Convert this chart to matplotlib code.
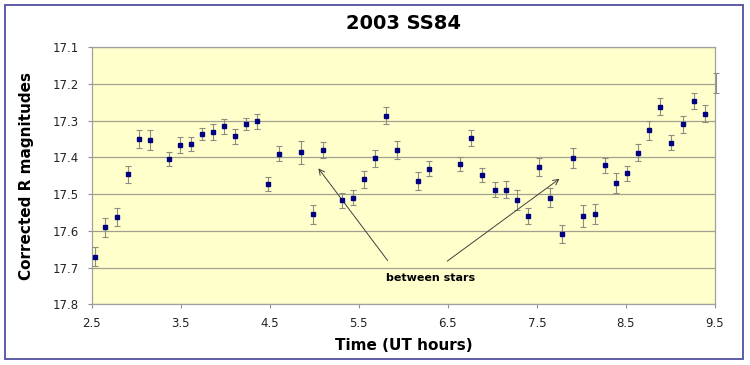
import numpy as np
import matplotlib
matplotlib.use("Agg")
import matplotlib.pyplot as plt
from matplotlib.patches import Rectangle

# время наблюдений (UT часы), звёздная величина и ошибка
t = [2.534, 2.654, 2.78, 2.904, 3.028, 3.152, 3.369, 3.49, 3.61, 3.74,
     3.867, 3.987, 4.11, 4.234, 4.357, 4.481, 4.605, 4.852, 4.98, 5.103,
     5.312, 5.44, 5.563, 5.687, 5.81, 5.934, 6.165, 6.293, 6.641, 6.765,
     6.888, 7.03, 7.154, 7.275, 7.399, 7.526, 7.642, 7.784, 7.904, 8.02,
     8.152, 8.267, 8.39, 8.514, 8.638, 8.761, 8.885, 9.009, 9.136, 9.26,
     9.383]
mag = [17.67, 17.59, 17.563, 17.446, 17.351, 17.354, 17.405, 17.367, 17.364, 17.336,
       17.331, 17.316, 17.343, 17.31, 17.302, 17.473, 17.39, 17.386, 17.555, 17.381,
       17.517, 17.51, 17.46, 17.403, 17.287, 17.381, 17.465, 17.431, 17.418, 17.347,
       17.448, 17.488, 17.488, 17.517, 17.56, 17.426, 17.51, 17.608, 17.401, 17.56,
       17.554, 17.422, 17.469, 17.444, 17.388, 17.326, 17.263, 17.36, 17.31, 17.247,
       17.281]
err = [0.027, 0.026, 0.024, 0.023, 0.024, 0.027, 0.019, 0.021, 0.019, 0.017,
       0.021, 0.02, 0.02, 0.017, 0.021, 0.02, 0.02, 0.031, 0.026, 0.022,
       0.021, 0.02, 0.023, 0.024, 0.023, 0.024, 0.024, 0.02, 0.02, 0.022,
       0.02, 0.021, 0.024, 0.027, 0.021, 0.025, 0.026, 0.024, 0.027, 0.03,
       0.028, 0.021, 0.027, 0.021, 0.023, 0.026, 0.023, 0.02, 0.023, 0.022,
       0.023]
# последняя точка за краем оси (видна только ошибка)
t_out, mag_out, err_out = [9.515], [17.197], [0.027]

xticks = [2.5, 3.5, 4.5, 5.5, 6.5, 7.5, 8.5, 9.5]
yticks = [17.1, 17.2, 17.3, 17.4, 17.5, 17.6, 17.7, 17.8]

fig = plt.figure(figsize=(7.5, 3.65), dpi=100)
ax = fig.add_axes([0.1223, 0.1663, 0.831, 0.7049])
ax.set_facecolor('#ffffcc')

# рамка вокруг всей картинки
fig.patches.append(Rectangle((5 / 750, 6 / 365), 738 / 750, 354 / 365,
                             transform=fig.transFigure, fill=False,
                             edgecolor='#5050a0', lw=1.3))

ax.errorbar(t, mag, yerr=err, fmt='s', color='#000080', ms=3.2,
            ecolor='#8c8c80', elinewidth=0.8, capsize=2.2, capthick=0.8, zorder=3)
ax.errorbar(t_out, mag_out, yerr=err_out, fmt='none', ecolor='#8c8c80',
            elinewidth=0.8, capsize=2.2, capthick=0.8, clip_on=False, zorder=3)

ax.set_xlim(2.5, 9.5)
ax.set_ylim(17.8, 17.1)
ax.set_xticks(xticks)
ax.set_yticks(yticks)
ax.set_xticklabels(['%.1f' % v for v in xticks])
ax.set_yticklabels(['%.1f' % v for v in yticks])
ax.grid(axis='y', color='#a0a090', lw=0.9)
ax.set_axisbelow(True)
ax.tick_params(colors='#909090', labelcolor='#222222', labelsize=8.5, length=3,
               width=0.8, direction='out', pad=6)
for s in ax.spines.values():
    s.set_color('#a0a0a0')
    s.set_linewidth(0.9)

ax.set_title('2003 SS84', fontsize=14, fontweight='bold', pad=13)
ax.set_xlabel('Time (UT hours)', fontsize=11, fontweight='bold', labelpad=6)
ax.set_ylabel('Corrected R magnitudes', fontsize=11, fontweight='bold', labelpad=14)

# подпись со стрелками
ax.text(6.31, 17.728, 'between stars', fontsize=8, fontweight='bold',
        ha='center', va='center')
ax.annotate('', xy=(5.027, 17.424), xytext=(5.842, 17.687),
            arrowprops=dict(arrowstyle='->', color='#404040', lw=0.7))
ax.annotate('', xy=(7.779, 17.454), xytext=(6.468, 17.687),
            arrowprops=dict(arrowstyle='->', color='#404040', lw=0.7))

fig.savefig('out.png', dpi=100)
